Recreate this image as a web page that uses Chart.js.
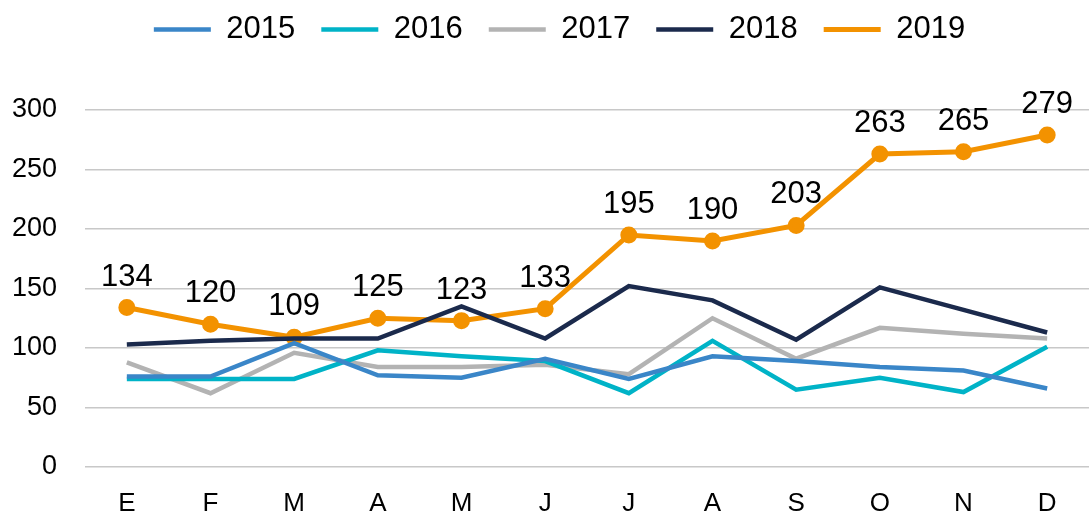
<!DOCTYPE html>
<html>
<head>
<meta charset="utf-8">
<script src="https://cdn.jsdelivr.net/npm/chart.js@4"></script>
<style>
  html, body { margin: 0; padding: 0; background: #fff; }
  #wrap { width: 1089px; height: 517px; }
</style>
</head>
<body>
<div id="wrap"><canvas id="chart"></canvas></div>
<script>
// Months (Spanish initials)
const months = ['E', 'F', 'M', 'A', 'M', 'J', 'J', 'A', 'S', 'O', 'N', 'D'];
const yTicks = [0, 50, 100, 150, 200, 250, 300];

const s2015 = [76, 76, 104, 77, 75, 91, 74, 93, 89, 84, 81, 66];
const s2016 = [74, 74, 74, 98, 93, 89, 62, 106, 65, 75, 63, 101];
const s2017 = [88, 62, 96, 84, 84, 86, 78, 125, 91, 117, 112, 108];
const s2018 = [103, 106, 108, 108, 135, 108, 152, 140, 107, 151, 132, 113];
const s2019 = [134, 120, 109, 125, 123, 133, 195, 190, 203, 263, 265, 279];

const FONT = "'Liberation Sans', Arial, sans-serif";

// draws the value labels over the 2019 line
const valueLabels = {
    id: 'valueLabels',
    afterDatasetsDraw(chart) {
        const ctx = chart.ctx;
        const meta = chart.getDatasetMeta(4);
        ctx.save();
        ctx.font = '31px ' + FONT;
        ctx.fillStyle = '#000';
        ctx.textAlign = 'center';
        ctx.textBaseline = 'alphabetic';
        meta.data.forEach((pt, i) => {
            ctx.fillText(String(s2019[i]), pt.x, pt.y - 22);
        });
        ctx.restore();
    }
};

// fixed legend height + nudge so the plot starts where the original does
const legendTweak = {
    id: 'legendTweak',
    beforeInit(chart) {
        const legend = chart.legend;
        const fit = legend.fit;
        legend.fit = function () {
            fit.call(this);
            this.height = 110;
        };
        const draw = legend.draw;
        legend.draw = function () {
            const ctx = this.ctx;
            ctx.save();
            ctx.translate(15, -12);
            draw.call(this);
            ctx.restore();
        };
    }
};

function line(label, data, color, extra) {
    return Object.assign({
        label: label,
        data: data,
        borderColor: color,
        backgroundColor: color,
        borderWidth: 4.5,
        pointRadius: 0,
        tension: 0
    }, extra || {});
}

new Chart(document.getElementById('chart').getContext('2d'), {
    type: 'line',
    data: {
        labels: months,
        datasets: [
            line('2015', s2015, '#3A86C8'),
            line('2016', s2016, '#00B3C7'),
            line('2017', s2017, '#B3B3B3'),
            line('2018', s2018, '#1B2A4C'),
            line('2019', s2019, '#F39200', { borderWidth: 5, pointRadius: 6, pointHoverRadius: 6 })
        ]
    },
    options: {
        responsive: true,
        maintainAspectRatio: false,
        animation: false,
        layout: { padding: 0, autoPadding: false },
        plugins: {
            legend: {
                position: 'top',
                labels: {
                    usePointStyle: true,
                    pointStyle: 'line',
                    pointStyleWidth: 57,
                    boxHeight: 31,
                    padding: 26,
                    color: '#000',
                    font: { family: FONT, size: 31 }
                }
            },
            tooltip: { enabled: false }
        },
        scales: {
            x: {
                offset: true,
                afterFit: (axis) => {
                    axis.height = 50;
                    axis.paddingLeft = 0;
                    axis.paddingRight = 0;
                },
                grid: { display: false, drawTicks: true, tickLength: 24 },
                border: { display: false },
                ticks: {
                    color: '#000',
                    padding: 0,
                    font: { family: FONT, size: 26, lineHeight: 1 }
                }
            },
            y: {
                min: 0,
                max: 300,
                afterFit: (axis) => { axis.width = 85; },
                afterBuildTicks: (axis) => { axis.ticks = yTicks.map(v => ({ value: v })); },
                grid: { color: '#C8C8C8', lineWidth: 1.5, drawTicks: false },
                border: { display: false },
                ticks: {
                    color: '#000',
                    padding: 28,
                    font: { family: FONT, size: 27 }
                }
            }
        }
    },
    plugins: [valueLabels, legendTweak]
});
</script>
</body>
</html>
